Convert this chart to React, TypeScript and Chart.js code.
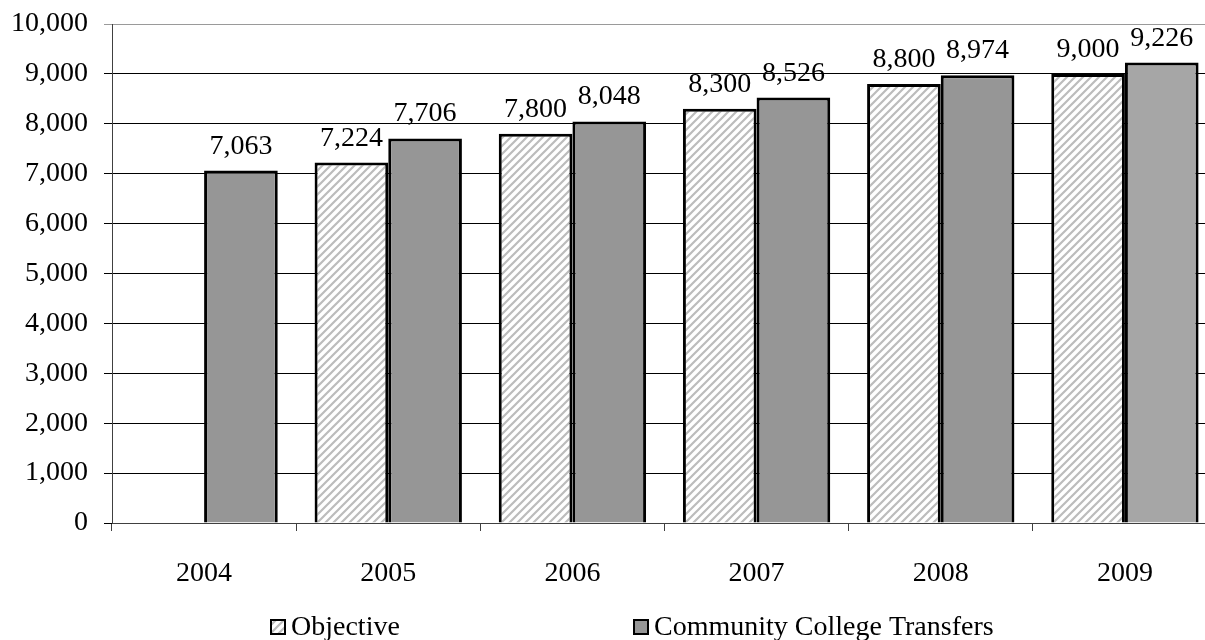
import React, { useEffect, useRef } from "react";
import { Chart, registerables } from "chart.js";

Chart.register(...registerables);

const years = ["2004", "2005", "2006", "2007", "2008", "2009"];
const objective: (number | null)[] = [null, 7224, 7800, 8300, 8800, 9000];
const transfers: number[] = [7063, 7706, 8048, 8526, 8974, 9226];
const transferColors = ["#969696", "#969696", "#969696", "#969696", "#969696", "#a6a6a6"];
const legendLabels = ["Objective", "Community College Transfers"];
const yTickMax = 10000;
const yTickStep = 1000;

const FONT = '"Liberation Serif", "Times New Roman", serif';
const FS = 28;

function makeHatch(): CanvasPattern | string {
  const c = document.createElement("canvas");
  c.width = 8;
  c.height = 8;
  const g = c.getContext("2d");
  if (!g) return "#dddddd";
  g.fillStyle = "#ffffff";
  g.fillRect(0, 0, 8, 8);
  g.strokeStyle = "#bcbcbc";
  g.lineWidth = 2.2;
  g.beginPath();
  g.moveTo(-2, 10);
  g.lineTo(10, -2);
  g.moveTo(-6, 6);
  g.lineTo(6, -6);
  g.moveTo(2, 14);
  g.lineTo(14, 2);
  g.stroke();
  const p = g.createPattern(c, "repeat");
  return p || "#dddddd";
}

const fmt = (v: number) => v.toLocaleString("en-US");

export default function App() {
  const ref = useRef<HTMLCanvasElement | null>(null);

  useEffect(() => {
    const canvas = ref.current;
    if (!canvas) return;
    const hatch = makeHatch();

    const labelPlugin = {
      id: "valueLabels",
      afterDatasetsDraw(chart: any) {
        const ctx = chart.ctx;
        ctx.save();
        ctx.font = `${FS}px ${FONT}`;
        ctx.fillStyle = "#000";
        ctx.textAlign = "center";
        ctx.textBaseline = "alphabetic";
        chart.data.datasets.forEach((ds: any, di: number) => {
          const meta = chart.getDatasetMeta(di);
          meta.data.forEach((el: any, i: number) => {
            const v = ds.data[i];
            if (v === null || v === undefined) return;
            ctx.fillText(fmt(v), el.x, el.y - 17);
          });
        });
        ctx.restore();
      },
    };

    const legendPlugin = {
      id: "customLegend",
      afterDraw(chart: any) {
        const ctx = chart.ctx;
        ctx.save();
        ctx.font = `${FS}px ${FONT}`;
        ctx.textBaseline = "middle";
        ctx.textAlign = "left";
        const y = 627;
        const items = [
          { x: 270, fill: hatch, label: legendLabels[0] },
          { x: 633, fill: transferColors[0], label: legendLabels[1] },
        ];
        items.forEach((it) => {
          ctx.fillStyle = it.fill as any;
          ctx.fillRect(it.x, y - 8, 16, 16);
          ctx.strokeStyle = "#000";
          ctx.lineWidth = 2;
          ctx.strokeRect(it.x + 1, y - 7, 14, 14);
          ctx.fillStyle = "#000";
          ctx.fillText(it.label, it.x + 21, y + 1);
        });
        ctx.restore();
      },
    };

    const chart = new Chart(canvas, {
      type: "bar",
      data: {
        labels: years,
        datasets: [
          {
            label: legendLabels[0],
            data: objective,
            backgroundColor: hatch as any,
            borderColor: "#000",
            borderWidth: 3,
            barPercentage: 1,
            categoryPercentage: 0.8,
          },
          {
            label: legendLabels[1],
            data: transfers,
            backgroundColor: transferColors,
            borderColor: "#000",
            borderWidth: 3,
            barPercentage: 1,
            categoryPercentage: 0.8,
          },
        ],
      },
      options: {
        animation: false,
        responsive: false,
        maintainAspectRatio: false,
        layout: { padding: { left: 0, top: 24, right: 13, bottom: 0 } },
        plugins: {
          legend: { display: false },
          tooltip: { enabled: false },
        },
        scales: {
          x: {
            grid: {
              display: true,
              drawOnChartArea: false,
              drawTicks: true,
              tickLength: 8,
              offset: true,
              color: "#404040",
            },
            border: { display: true, color: "#404040", width: 1 },
            ticks: {
              color: "#000",
              font: { family: FONT, size: FS },
              padding: 26,
              maxRotation: 0,
            },
            afterFit(scale: any) {
              scale.height = 117;
              scale.paddingLeft = 0;
              scale.paddingRight = 0;
            },
          },
          y: {
            min: 0,
            max: yTickMax,
            grid: {
              color: (c: any) => (c.tick && c.tick.value === yTickMax ? "#9a9a9a" : "#000"),
              lineWidth: 1,
              tickLength: 8,
              drawTicks: true,
            },
            border: { display: true, color: "#404040", width: 1 },
            ticks: {
              stepSize: yTickStep,
              color: "#000",
              font: { family: FONT, size: FS },
              padding: 16,
              callback: (v: any) => fmt(Number(v)),
            },
            afterFit(scale: any) {
              scale.width = 112;
              scale.paddingTop = 0;
              scale.paddingBottom = 0;
            },
          },
        },
      },
      plugins: [labelPlugin, legendPlugin],
    });
    return () => chart.destroy();
  }, []);

  return (
    <div
      style={{
        position: "fixed",
        left: 0,
        top: 0,
        width: 1205,
        height: 640,
        overflow: "hidden",
        background: "#fff",
      }}
    >
      <canvas ref={ref} width={1230} height={640} style={{ display: "block" }} />
    </div>
  );
}
